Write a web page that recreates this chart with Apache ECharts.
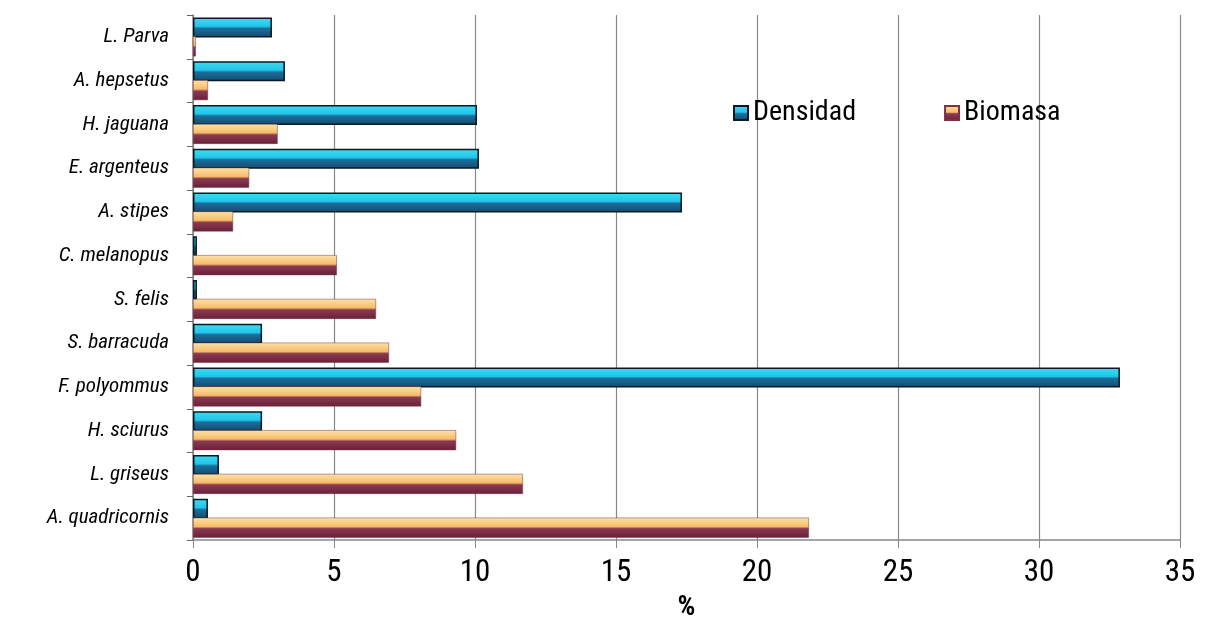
<!DOCTYPE html>
<html><head><meta charset="utf-8">
<script src="https://cdn.jsdelivr.net/npm/echarts@6/dist/echarts.min.js"></script>
<style>html,body{margin:0;padding:0;background:#fff}#c{width:1206px;height:621px}</style>
</head><body><div id="c"></div>
<script>
const categories = ['L. Parva','A. hepsetus','H. jaguana','E. argenteus','A. stipes','C. melanopus','S. felis','S. barracuda','F. polyommus','H. sciurus','L. griseus','A. quadricornis'];
const densidad = [2.8, 3.26, 10.07, 10.14, 17.34, 0.14, 0.14, 2.45, 32.87, 2.45, 0.92, 0.53];
const biomasa = [0.1, 0.53, 3.0, 1.99, 1.42, 5.1, 6.49, 6.95, 8.09, 9.33, 11.7, 21.84];
const xTicks = [0,5,10,15,20,25,30,35];

const font = '"Liberation Sans Narrow", "Roboto Condensed", Roboto, sans-serif';
const chart = echarts.init(document.getElementById('c'));
const blueGrad = new echarts.graphic.LinearGradient(0,0,0,1,[
  {offset:0,color:'#3fdcf5'},{offset:0.45,color:'#22c4e8'},
  {offset:0.55,color:'#1b6f9c'},{offset:1,color:'#124a70'}]);
const bioGrad = new echarts.graphic.LinearGradient(0,0,0,1,[
  {offset:0,color:'#fde3a8'},{offset:0.45,color:'#f6bb68'},
  {offset:0.55,color:'#8a3a52'},{offset:1,color:'#6a2038'}]);
chart.setOption({
  animation:false,
  grid:{left:193,right:26,top:15,bottom:81,containLabel:false,outerBoundsMode:'none'},
  legend:{
    data:['Densidad','Biomasa'],
    left:728, top:94, itemGap:88, itemWidth:14, itemHeight:14, icon:'rect',
    textStyle:{fontFamily:font,fontSize:28,color:'#000'}
  },
  xAxis:{
    type:'value', min:0, max:35, interval:5,
    name:'%', nameLocation:'middle', nameGap:54,
    nameTextStyle:{fontFamily:font,fontSize:28,color:'#000',fontWeight:'bold'},
    axisLine:{show:true,lineStyle:{color:'#888',width:1.5}},
    axisTick:{show:true,length:8,lineStyle:{color:'#888'}},
    axisLabel:{fontFamily:font,fontSize:31,color:'#000',margin:18,
      formatter:v=>xTicks.includes(v)?String(v):''},
    splitLine:{show:true,lineStyle:{color:'#888',width:1.2}}
  },
  yAxis:{
    type:'category', data:categories, inverse:true,
    axisLine:{show:true,lineStyle:{color:'#888',width:1.5}},
    axisTick:{show:true,length:6,lineStyle:{color:'#666'}},
    axisLabel:{fontFamily:font,fontSize:21,fontStyle:'italic',color:'#000',margin:24}
  },
  series:[
    {name:'Densidad',type:'bar',data:densidad,barWidth:20,barGap:'-5%',
     itemStyle:{color:blueGrad,borderColor:'#0a1a22',borderWidth:1.5}},
    {name:'Biomasa',type:'bar',data:biomasa,barWidth:20,
     itemStyle:{color:bioGrad,borderColor:'#7a3045',borderWidth:0.5}}
  ]
});
</script></body></html>
